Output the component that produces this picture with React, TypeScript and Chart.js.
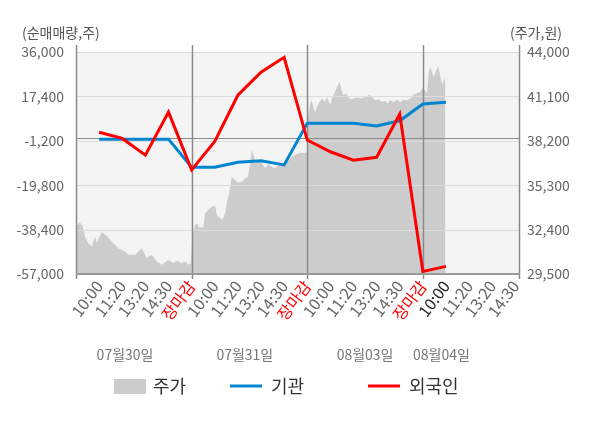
import React, { useEffect, useRef } from "react";
import { Chart, registerables } from "chart.js";

Chart.register(...registerables);

const FONT = "'Noto Sans CJK KR', 'Noto Sans', sans-serif";

// x-axis slots: each label occupies one unit
const xLabels = [
  "10:00", "11:20", "13:20", "14:30", "장마감",
  "10:00", "11:20", "13:20", "14:30", "장마감",
  "10:00", "11:20", "13:20", "14:30", "장마감",
  "10:00", "11:20", "13:20", "14:30",
];
const xLabelPositions = [1, 2, 3, 4, 5, 6, 7, 8, 9, 10, 11, 12, 13, 14, 15, 16, 17, 18, 19];
const currentSlot = 16;
const dayBreaks = [5, 10, 15];
const xMax = 19.2;

const dateLabels = ["07월30일", "07월31일", "08월03일", "08월04일"];
const datePositions = [2.12, 7.3, 12.5, 15.8];

const leftTicks = [36000, 17400, -1200, -19800, -38400, -57000];
const rightTicks = [44000, 41100, 38200, 35300, 32400, 29500];

// net buying (shares) at each time label
const flowSlots = [1, 2, 3, 4, 5, 6, 7, 8, 9, 10, 11, 12, 13, 14, 15, 16];
const institution = [-500, -500, -500, -500, -12300, -12300, -10200, -9600, -11300, 6100, 6100, 6100, 5000, 7200, 14200, 14900];
const foreign = [2400, -200, -7200, 10800, -13400, -1500, 17900, 27500, 33800, -900, -5800, -9300, -8100, 10000, -55900, -53800];

// stock price (won)
const priceTimes = [
  0, 0.17, 0.29, 0.39, 0.53, 0.68, 0.82, 0.9, 1.11, 1.33, 1.55, 1.83, 2.12, 2.26, 2.55, 2.84, 3.06, 3.28, 3.49, 3.71, 4.0, 4.21, 4.36, 4.58, 4.72, 4.86, 4.96,
  5.02, 5.15, 5.23, 5.32, 5.51, 5.58, 5.73, 5.87, 6.02, 6.09, 6.23, 6.33, 6.45, 6.52, 6.62, 6.74, 6.88, 7.03, 7.17, 7.32, 7.43, 7.53, 7.61, 7.68, 7.78, 7.89, 8.04, 8.18, 8.32, 8.47, 8.61, 8.76, 8.9, 9.05, 9.19, 9.34, 9.48, 9.62, 9.77, 9.91, 9.98,
  10.04, 10.13, 10.2, 10.27, 10.35, 10.42, 10.53, 10.64, 10.78, 10.85, 10.99, 11.07, 11.17, 11.29, 11.39, 11.46, 11.55, 11.65, 11.74, 11.86, 12.0, 12.15, 12.29, 12.44, 12.58, 12.68, 12.8, 12.94, 13.09, 13.23, 13.38, 13.48, 13.59, 13.74, 13.88, 14.03, 14.17, 14.32, 14.46, 14.6, 14.75, 14.89, 14.97,
  15.03, 15.18, 15.25, 15.32, 15.47, 15.66, 15.79, 15.86, 15.93, 15.97,
];
const priceValues = [
  32620, 32860, 32600, 31950, 31520, 31300, 31950, 31520, 32240, 32000, 31620, 31190, 30970, 30760, 30760, 31190, 30540, 30760, 30320, 30110, 30430, 30220, 30370, 30220, 30320, 30110, 30220,
  31950, 32710, 32820, 32560, 32560, 33430, 33690, 33900, 33950, 33360, 33150, 33040, 33480, 34130, 34780, 35860, 35640, 35470, 35530, 35750, 35860, 36730, 37600, 37270, 36730, 36950, 36730, 36400, 36680, 36510, 36400, 36620, 36550, 36730, 36950, 37160, 37270, 37380, 37420, 37420, 37420,
  39880, 40640, 40850, 40310, 40090, 40420, 40740, 40960, 40740, 41070, 40530, 40960, 41290, 41720, 42050, 41720, 41180, 41290, 41180, 40900, 40960, 41030, 40960, 41030, 41070, 41220, 41070, 40850, 40900, 40740, 40810, 40640, 40850, 40740, 40900, 40740, 40900, 40850, 40960, 41220, 41330, 41400, 41620,
  41630, 41300, 42700, 43020, 42370, 43090, 42160, 41830, 42370, 41830,
];

const legendItems = [
  { label: "주가", kind: "box", color: "#cccccc" },
  { label: "기관", kind: "line", color: "#0085d0" },
  { label: "외국인", kind: "line", color: "#ff0000" },
];

const fmt = (v: number) => v.toLocaleString("en-US");

const decorPlugin = {
  id: "decor",
  beforeDatasetsDraw(chart: any) {
    const { ctx, chartArea } = chart;
    const { left, top, right, bottom } = chartArea;
    ctx.save();
    ctx.fillStyle = "#f4f4f4";
    ctx.fillRect(left, top, right - left, bottom - top);
    ctx.restore();
  },
  afterDatasetDraw(chart: any, args: any) {
    if (args.index !== 2) return;
    const { ctx, chartArea, scales } = chart;
    const { left, top, right, bottom } = chartArea;
    const line = (x1: number, y1: number, x2: number, y2: number) => {
      ctx.beginPath();
      ctx.moveTo(x1, y1);
      ctx.lineTo(x2, y2);
      ctx.stroke();
    };
    ctx.save();
    ctx.lineWidth = 1;
    ctx.strokeStyle = "#dcdcdc";
    leftTicks.forEach((v) => {
      const y = Math.round(scales.y.getPixelForValue(v)) + 0.5;
      line(left, y, right, y);
    });
    ctx.strokeStyle = "#8a8a8a";
    const y0 = Math.round(scales.y.getPixelForValue(0)) + 0.5;
    line(left, y0, right, y0);
    ctx.lineWidth = 1.5;
    dayBreaks.forEach((v) => {
      const x = Math.round(scales.x.getPixelForValue(v)) + 0.5;
      line(x, top - 7, x, bottom + 5);
    });
    line(left + 0.5, top - 7, left + 0.5, bottom + 5);
    line(right - 0.5, top - 7, right - 0.5, bottom + 5);
    ctx.strokeStyle = "#9a9a9a";
    ctx.lineWidth = 2;
    line(left, bottom, right, bottom);
    ctx.restore();
  },
  afterDraw(chart: any) {
    const { ctx } = chart;
    ctx.save();
    ctx.font = `14px ${FONT}`;
    ctx.fillStyle = "#555555";
    ctx.textBaseline = "middle";
    ctx.textAlign = "left";
    ctx.fillText("(순매매량,주)", 22, 33);
    ctx.textAlign = "right";
    ctx.fillText("(주가,원)", 562, 33);

    const startX = [114, 230, 368];
    ctx.textAlign = "left";
    ctx.font = `18px ${FONT}`;
    legendItems.forEach((it, i) => {
      const x = startX[i];
      const cy = 386;
      if (it.kind === "box") {
        ctx.fillStyle = it.color;
        ctx.fillRect(x, cy - 7, 32, 15);
      } else {
        ctx.strokeStyle = it.color;
        ctx.lineWidth = 3;
        ctx.beginPath();
        ctx.moveTo(x, cy);
        ctx.lineTo(x + 32, cy);
        ctx.stroke();
      }
      ctx.fillStyle = "#333333";
      ctx.fillText(it.label, x + (it.kind === "box" ? 39 : 41), cy);
    });
    ctx.restore();
  },
};

export default function App() {
  const ref = useRef<HTMLCanvasElement | null>(null);

  useEffect(() => {
    if (!ref.current) return;
    Chart.defaults.font.family = FONT;
    const chart = new Chart(ref.current, {
      type: "line",
      data: {
        datasets: [
          {
            label: "외국인",
            data: flowSlots.map((x, i) => ({ x, y: foreign[i] })),
            borderColor: "#ff0000",
            borderWidth: 3,
            pointRadius: 0,
            tension: 0,
            yAxisID: "y",
            xAxisID: "x",
            order: 1,
          },
          {
            label: "기관",
            data: flowSlots.map((x, i) => ({ x, y: institution[i] })),
            borderColor: "#0085d0",
            borderWidth: 3,
            pointRadius: 0,
            tension: 0,
            yAxisID: "y",
            xAxisID: "x",
            order: 2,
          },
          {
            label: "주가",
            data: priceTimes.map((x, i) => ({ x, y: priceValues[i] })),
            borderWidth: 0,
            borderColor: "rgba(0,0,0,0)",
            backgroundColor: "#cccccc",
            fill: "start",
            pointRadius: 0,
            tension: 0,
            yAxisID: "y1",
            xAxisID: "x",
            order: 3,
          },
        ] as any,
      },
      options: {
        responsive: false,
        animation: false,
        devicePixelRatio: 1,
        layout: { padding: { top: 52, bottom: 60, left: 0, right: 0 } },
        plugins: { legend: { display: false }, tooltip: { enabled: false } },
        scales: {
          x: {
            type: "linear",
            position: "bottom",
            weight: 0,
            min: 0,
            max: xMax,
            afterBuildTicks: (axis: any) => {
              axis.ticks = xLabelPositions.map((v) => ({ value: v }));
            },
            afterFit: (axis: any) => {
              axis.height = 70;
            },
            ticks: {
              autoSkip: false,
              minRotation: 53,
              maxRotation: 53,
              padding: 3,
              font: { size: 16 },
              color: (c: any) => {
                const v = c.tick ? c.tick.value : 0;
                const lbl = xLabels[xLabelPositions.indexOf(v)];
                if (lbl === "장마감") return "#ff0000";
                if (v === currentSlot) return "#222222";
                return "#666666";
              },
              callback: (v: any) => {
                const idx = xLabelPositions.indexOf(Number(v));
                return idx >= 0 ? xLabels[idx] : "";
              },
            },
            grid: { display: false, drawTicks: false },
            border: { display: false },
          },
          xDate: {
            type: "linear",
            position: "bottom",
            weight: 1,
            min: 0,
            max: xMax,
            afterBuildTicks: (axis: any) => {
              axis.ticks = datePositions.map((v) => ({ value: v }));
            },
            afterFit: (axis: any) => {
              axis.height = 24;
            },
            ticks: {
              autoSkip: false,
              minRotation: 0,
              maxRotation: 0,
              padding: 2,
              font: { size: 14 },
              color: "#777777",
              callback: (v: any) => {
                const idx = datePositions.indexOf(Number(v));
                return idx >= 0 ? dateLabels[idx] : "";
              },
            },
            grid: { display: false, drawTicks: false },
            border: { display: false },
          },
          y: {
            type: "linear",
            position: "left",
            min: -57000,
            max: 36000,
            afterBuildTicks: (axis: any) => {
              axis.ticks = leftTicks.map((v) => ({ value: v }));
            },
            afterFit: (axis: any) => {
              axis.width = 76;
            },
            ticks: {
              padding: 12,
              font: { size: 14 },
              color: "#666666",
              callback: (v: any) => fmt(Number(v)),
            },
            grid: { display: false, drawTicks: false },
            border: { display: false },
          },
          y1: {
            type: "linear",
            position: "right",
            min: 29500,
            max: 44000,
            afterBuildTicks: (axis: any) => {
              axis.ticks = rightTicks.map((v) => ({ value: v }));
            },
            afterFit: (axis: any) => {
              axis.width = 80;
            },
            ticks: {
              padding: 7,
              font: { size: 14 },
              color: "#666666",
              callback: (v: any) => fmt(Number(v)),
            },
            grid: { display: false, drawTicks: false },
            border: { display: false },
          },
        },
      } as any,
      plugins: [decorPlugin],
    });
    return () => chart.destroy();
  }, []);

  return (
    <div style={{ position: "fixed", left: 0, top: 0, width: 600, height: 428, background: "#ffffff" }}>
      <canvas ref={ref} width={600} height={428} style={{ display: "block", width: 600, height: 428 }} />
    </div>
  );
}
